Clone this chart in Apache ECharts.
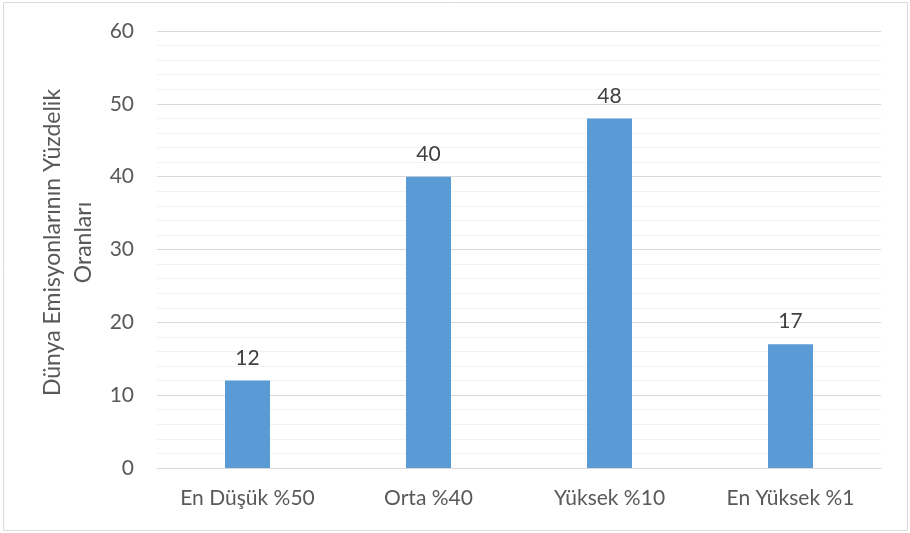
<!DOCTYPE html>
<html>
<head>
<meta charset="utf-8">
<script src="https://cdn.jsdelivr.net/npm/echarts@6/dist/echarts.min.js"></script>
<style>
  html, body { margin: 0; padding: 0; background: #fff; }
  #chart { width: 910px; height: 533px; }
</style>
</head>
<body>
<div id="chart"></div>
<script>
// veriler
var categories = ['En Düşük %50', 'Orta %40', 'Yüksek %10', 'En Yüksek %1']
var values = [12, 40, 48, 17]
var yMin = 0
var yMax = 60
var yStep = 10

var chart = echarts.init(document.getElementById('chart'))
chart.setOption({
  backgroundColor: '#fff',
  textStyle: { fontFamily: 'Lato' },
  graphic: [{
    type: 'rect',
    shape: { x: 3.5, y: 2.5, width: 904, height: 528 },
    style: { fill: 'none', stroke: '#d9d9d9', lineWidth: 1 },
    silent: true
  }],
  grid: {
    left: 157,
    right: 29,
    top: 31,
    bottom: 65
  },
  xAxis: {
    type: 'category',
    data: categories,
    axisTick: { show: false },
    axisLine: { lineStyle: { color: '#d9d9d9', width: 1 } },
    axisLabel: { color: '#595959', fontSize: 21, margin: 20 }
  },
  yAxis: {
    type: 'value',
    min: yMin,
    max: yMax,
    interval: yStep,
    name: 'Dünya Emisyonlarının Yüzdelik\nOranları',
    nameLocation: 'middle',
    nameGap: 57,
    nameRotate: 90,
    nameTextStyle: { color: '#595959', fontSize: 23, lineHeight: 31, padding: [0, 0, 0, 14] },
    axisLine: { show: false },
    axisTick: { show: false },
    axisLabel: { color: '#595959', fontSize: 21, margin: 23 },
    splitLine: { lineStyle: { color: '#d9d9d9', width: 1 } },
    minorTick: { show: false, splitNumber: 5 },
    minorSplitLine: { show: true, lineStyle: { color: '#f2f2f2', width: 1 } }
  },
  series: [{
    type: 'bar',
    data: values,
    barWidth: 45,
    itemStyle: { color: '#5b9bd5' },
    label: {
      show: true,
      position: 'top',
      distance: 12,
      color: '#404040',
      fontSize: 21
    }
  }]
})
</script>
</body>
</html>
